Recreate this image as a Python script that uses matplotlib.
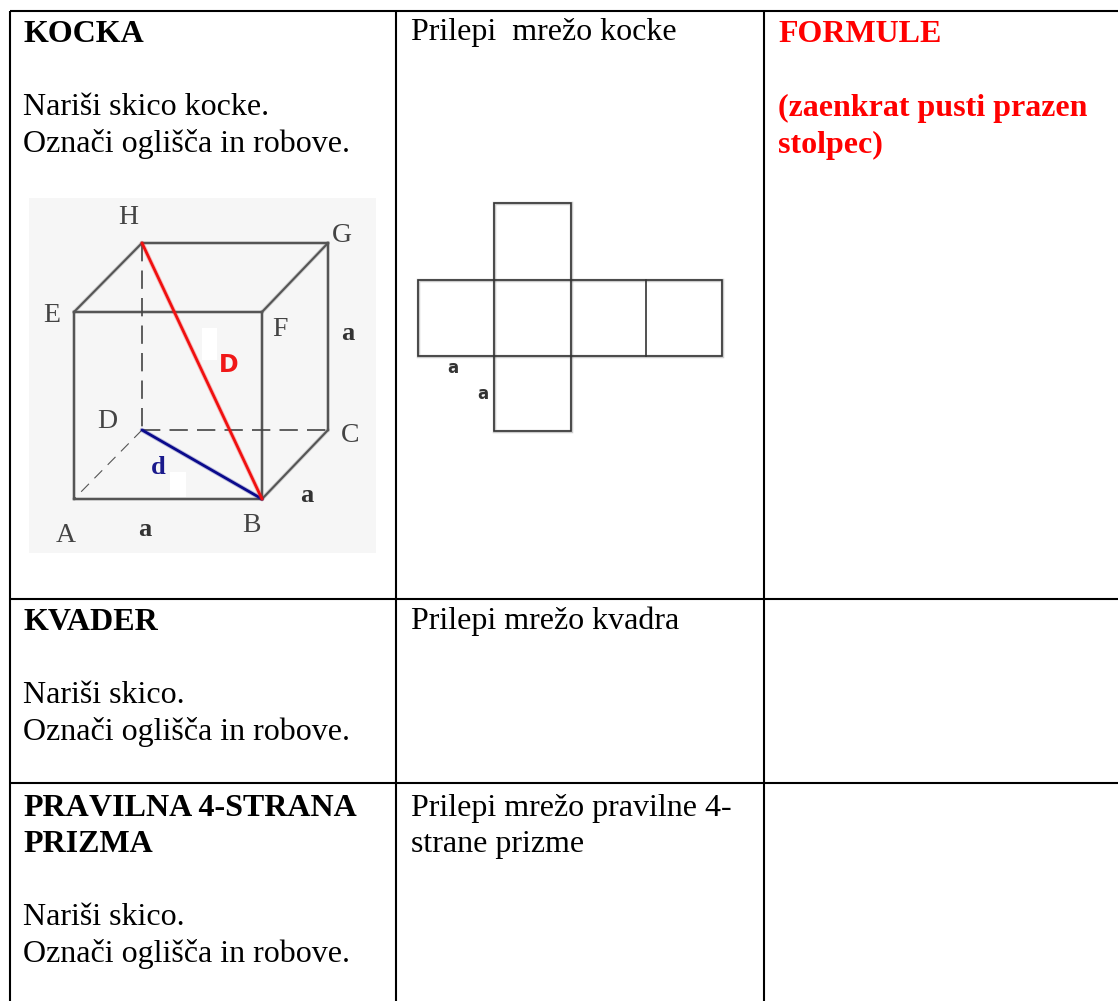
# -*- coding: utf-8 -*-
import matplotlib
matplotlib.use('Agg')
import matplotlib.pyplot as plt
import matplotlib.patheffects as pe
from matplotlib.patches import Rectangle

plt.rcParams['font.family'] = ['Liberation Serif', 'DejaVu Serif']

# table grid
col_lines = [396, 764]
row_lines = [11, 599, 783]
left_line = 9.5

# (x, baseline, text, bold, colour)
cell_x = [23, 411, 778]
cell_texts = [
    (cell_x[0], 42, 'KOCKA', True, 'black'),
    (cell_x[0], 115, 'Nariši skico kocke.', False, 'black'),
    (cell_x[0], 152, 'Označi oglišča in robove.', False, 'black'),
    (cell_x[0], 630, 'KVADER', True, 'black'),
    (cell_x[0], 703, 'Nariši skico.', False, 'black'),
    (cell_x[0], 740, 'Označi oglišča in robove.', False, 'black'),
    (cell_x[0], 852, 'PRIZMA', True, 'black'),
    (cell_x[0], 925, 'Nariši skico.', False, 'black'),
    (cell_x[0], 962, 'Označi oglišča in robove.', False, 'black'),
    (cell_x[1], 40, 'Prilepi  mrežo kocke', False, 'black'),
    (cell_x[1], 629, 'Prilepi mrežo kvadra', False, 'black'),
    (cell_x[1], 816, 'Prilepi mrežo pravilne 4-', False, 'black'),
    (cell_x[1], 852, 'strane prizme', False, 'black'),
    (cell_x[2], 42, 'FORMULE', True, 'red'),
    (cell_x[2], 116, '(zaenkrat pusti prazen', True, 'red'),
    (cell_x[2], 153, 'stolpec)', True, 'red'),
]
# the reference has no AV kerning in this heading, so it goes in two pieces
heading_left = 'PRA'
heading_right = 'VILNA 4-STRANA'
heading_y = 816
heading_right_end = 357

# cube sketch
cube_bg = (29, 198, 347, 355)
cube_pts = {'A': (74, 499), 'B': (262, 499), 'C': (328, 430), 'D': (142, 430),
            'E': (74, 312), 'F': (262, 312), 'G': (328, 243), 'H': (142, 243)}
solid_edges = ['AB', 'BF', 'FE', 'EA', 'EH', 'HG', 'GF', 'GC', 'CB']
dashed_edges = ['HD', 'DC']
thin_dashed_edges = ['DA']
smudges = [(202, 328, 15, 32), (170, 472, 16, 25)]
vertex_labels = [('H', 128, 217), ('G', 342, 235), ('E', 52, 315), ('F', 280, 330),
                 ('D', 107, 422), ('C', 350, 436), ('A', 66, 535), ('B', 251, 525)]
side_labels = [(348, 333), (307, 495), (145, 529)]

# net of the cube
net_x = [417.5, 494, 571, 645.5, 722]
net_y = [203, 280, 356, 431]
net_labels = [(453, 368), (483, 394)]


def soft(lw, colour):
    return [pe.withStroke(linewidth=lw + 1.3, foreground=colour, alpha=0.25)]


fig = plt.figure(figsize=(11.18, 10.01), dpi=100)
ax = fig.add_axes([0, 0, 1, 1])
ax.set_xlim(0, 1118)
ax.set_ylim(1001, 0)
ax.axis('off')

# table
for x in [left_line] + col_lines:
    ax.plot([x, x], [row_lines[0], 1001], color='black', lw=1.5, solid_capstyle='butt')
for y in row_lines:
    ax.plot([left_line, 1118], [y, y], color='black', lw=1.5, solid_capstyle='butt')

for x, y, txt, bold, colour in cell_texts:
    ax.text(x, y, txt, fontsize=23, color=colour, va='baseline', ha='left',
            fontweight='bold' if bold else 'normal')
ax.text(cell_x[0], heading_y, heading_left, fontsize=23, va='baseline', ha='left', fontweight='bold')
ax.text(heading_right_end, heading_y, heading_right, fontsize=23, va='baseline', ha='right', fontweight='bold')

# cube
ax.add_patch(Rectangle(cube_bg[:2], cube_bg[2], cube_bg[3], fc='#f6f6f6', ec='none'))
for sx, sy, w, h in smudges:
    ax.add_patch(Rectangle((sx, sy), w, h, fc='white', ec='none'))


def edge(name, **kw):
    p, q = cube_pts[name[0]], cube_pts[name[1]]
    ax.plot([p[0], q[0]], [p[1], q[1]], **kw)


for e in solid_edges:
    edge(e, color='#555555', lw=1.5, solid_capstyle='round', path_effects=soft(1.5, '#555555'))
for e in dashed_edges:
    edge(e, color='#444444', lw=1.2, dashes=(11, 5.5))
for e in thin_dashed_edges:
    edge(e, color='#555555', lw=0.8, dashes=(10, 7))
edge('DB', color='#0a0a8c', lw=2.0, solid_capstyle='round', path_effects=soft(2.0, '#0a0a8c'))
edge('HB', color='#f01010', lw=2.0, solid_capstyle='round', path_effects=soft(2.0, '#f01010'))

for name, x, y in vertex_labels:
    ax.text(x, y, name, fontsize=20, color='#444444', ha='center', va='center')
for x, y in side_labels:
    ax.text(x, y, 'a', fontsize=19, color='#333333', ha='center', va='center', fontweight='bold')
ax.text(229, 365, 'D', fontsize=17, color='#f01818', ha='center', va='center',
        fontweight='bold', family='DejaVu Sans')
ax.text(158, 468, 'd', fontsize=19, color='#1a1a8c', ha='center', va='center', fontweight='bold')

# net
net_rects = [(net_x[1], net_y[0], net_x[2], net_y[3]),
             (net_x[0], net_y[1], net_x[4], net_y[2])]
for x0, y0, x1, y1 in net_rects:
    ax.add_patch(Rectangle((x0, y0), x1 - x0, y1 - y0, fc='none', ec='#333333', lw=1.2,
                           path_effects=soft(1.2, '#333333')))
ax.plot([net_x[3], net_x[3]], [net_y[1], net_y[2]], color='#333333', lw=1.2)
for x, y in net_labels:
    ax.text(x, y, 'a', fontsize=12, color='#333333', ha='center', va='center',
            family='DejaVu Sans', fontweight='bold')

fig.savefig('out.png', dpi=100, facecolor='white')
